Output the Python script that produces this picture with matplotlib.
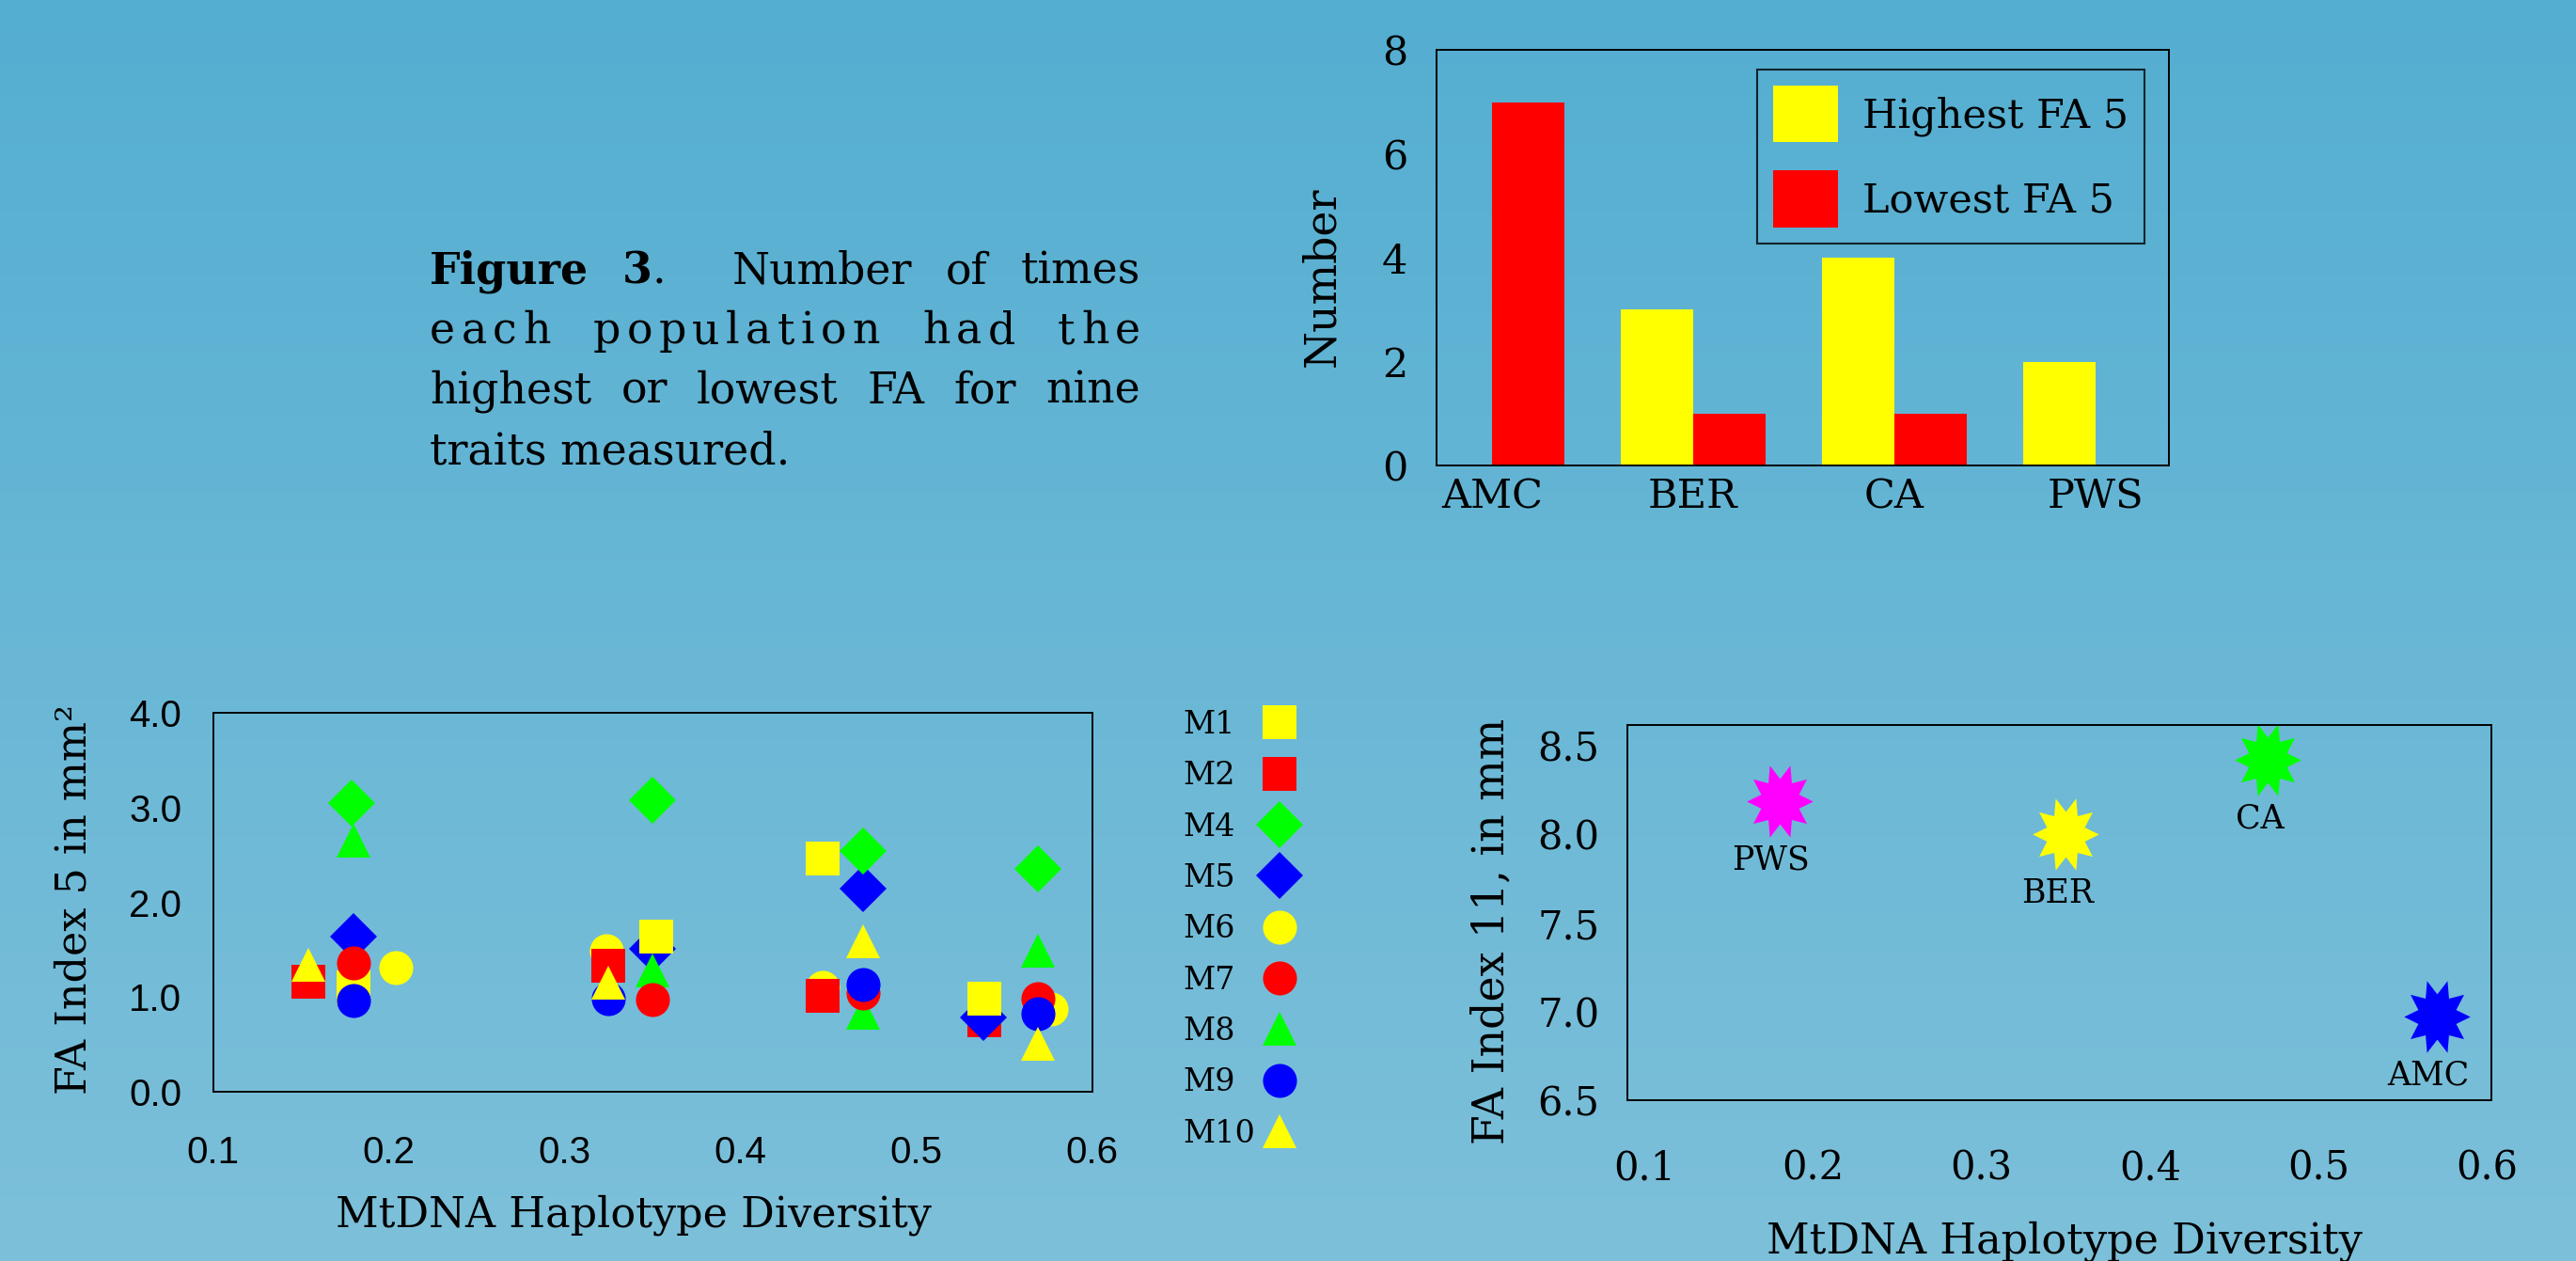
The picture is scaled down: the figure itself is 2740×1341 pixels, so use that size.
import matplotlib
matplotlib.use('Agg')
import matplotlib.pyplot as plt
import numpy as np
from matplotlib.colors import LinearSegmentedColormap
from matplotlib.markers import MarkerStyle
from matplotlib.path import Path
from matplotlib.transforms import Affine2D

W, H = 2740, 1341

# bar chart: times each population had highest / lowest FA
populations = ['AMC', 'BER', 'CA', 'PWS']
highest_fa5 = [0, 3, 4, 2]
lowest_fa5 = [7, 1, 1, 0]

# FA index 5 (mm^2) against mtDNA haplotype diversity, one series per trait
m1_x = [0.180, 0.352, 0.447, 0.539]
m1_y = [1.10, 1.64, 2.46, 0.98]
m2_x = [0.154, 0.325, 0.447, 0.539]
m2_y = [1.16, 1.33, 1.01, 0.75]
m4_x = [0.179, 0.350, 0.470, 0.569]
m4_y = [3.05, 3.08, 2.54, 2.35]
m5_x = [0.180, 0.350, 0.470, 0.538]
m5_y = [1.64, 1.51, 2.15, 0.78]
m6_x = [0.204, 0.324, 0.447, 0.577]
m6_y = [1.31, 1.49, 1.10, 0.87]
m7_x = [0.180, 0.350, 0.470, 0.569]
m7_y = [1.36, 0.97, 1.04, 0.98]
m8_x = [0.180, 0.350, 0.470, 0.569]
m8_y = [2.65, 1.28, 0.83, 1.49]
m9_x = [0.180, 0.325, 0.470, 0.569]
m9_y = [0.96, 0.98, 1.13, 0.82]
m10_x = [0.154, 0.325, 0.470, 0.569]
m10_y = [1.34, 1.15, 1.59, 0.51]

# FA index 11 (mm) per population
star_pops = ['PWS', 'BER', 'CA', 'AMC']
star_x = [0.18, 0.35, 0.47, 0.57]
star_y = [8.19, 8.00, 8.42, 6.97]

plt.rcParams['font.family'] = 'DejaVu Serif'


def fx(px):
    return px / W


def fy(py):
    return 1 - py / H


fig = plt.figure(figsize=(W / 100, H / 100), dpi=100)

# gradient background
bg = fig.add_axes([0, 0, 1, 1], zorder=-10)
cmap = LinearSegmentedColormap.from_list('bg', ['#54AED1', '#7DC0DA'])
bg.imshow(np.linspace(0, 1, 256).reshape(-1, 1), aspect='auto', cmap=cmap,
          extent=[0, 1, 0, 1], origin='upper')
bg.axis('off')


def style_axes(axis):
    axis.set_facecolor('none')
    for sp in axis.spines.values():
        sp.set_linewidth(1.4)
        sp.set_color('black')
    axis.tick_params(length=0)


# ---- bar chart ----
ax_bar = fig.add_axes([fx(1527.7), fy(495), (2306.7 - 1527.7) / W, (495 - 53.3) / H])
style_axes(ax_bar)
xpos = np.arange(len(populations))
bw = 0.36
ax_bar.bar(xpos - bw, highest_fa5, width=bw, align='edge', color='#FFFF00', label='Highest FA 5')
ax_bar.bar(xpos, lowest_fa5, width=bw, align='edge', color='#FF0000', label='Lowest FA 5')
ax_bar.set_xlim(-0.277, 3.365)
ax_bar.set_ylim(0, 8)
ax_bar.set_yticks([0, 2, 4, 6, 8])
ax_bar.set_xticks(xpos)
ax_bar.set_xticklabels(populations)
ax_bar.tick_params(axis='y', pad=22, labelsize=31)
ax_bar.tick_params(axis='x', pad=9, labelsize=31)
leg = ax_bar.legend(loc='upper right', bbox_to_anchor=(fx(2281), fy(74)),
                    bbox_transform=fig.transFigure, borderaxespad=0, fancybox=False,
                    edgecolor='black', fontsize=31, handlelength=1.6, handleheight=1.77,
                    labelspacing=0.7, handletextpad=0.6, borderpad=0.4)
leg.get_frame().set_facecolor('none')
leg.get_frame().set_linewidth(1.5)
fig.text(fx(1407), fy(294), 'Number', rotation=90, ha='center', va='center', fontsize=33)

# ---- caption, justified ----
renderer = fig.canvas.get_renderer()
cap_size = 33
cap_left, cap_right = 457, 1213


def justify(tokens, gaps, base):
    placed = []
    widths = []
    for tok in tokens:
        items = []
        tw = 0
        for s, weight in tok:
            t = fig.text(0, fy(base), s, fontsize=cap_size, fontweight=weight, va='baseline')
            w = t.get_window_extent(renderer).width
            items.append((t, w))
            tw += w
        placed.append(items)
        widths.append(tw)
    gap = (cap_right - cap_left - sum(widths)) / sum(gaps)
    x = cap_left
    for i, items in enumerate(placed):
        for t, w in items:
            t.set_x(fx(x))
            x += w
        if i < len(gaps):
            x += gap * gaps[i]


justify([[('Figure', 'bold')], [('3', 'bold'), ('.', 'normal')], [('Number', 'normal')],
         [('of', 'normal')], [('times', 'normal')]], [1, 2, 1, 1], 302)

# second line is spread letter by letter
line2 = 'each population had the'
tok2, gap2 = [], []
for i, ch in enumerate(line2):
    if ch == ' ':
        continue
    if tok2:
        gap2.append(7 if line2[i - 1] == ' ' else 1)
    tok2.append([(ch, 'normal')])
justify(tok2, gap2, 365)

justify([[('highest', 'normal')], [('or', 'normal')], [('lowest', 'normal')], [('FA', 'normal')],
         [('for', 'normal')], [('nine', 'normal')]], [1, 1, 1, 1, 1], 429)
fig.text(fx(cap_left), fy(493), 'traits measured.', fontsize=cap_size, va='baseline')

# ---- FA index 5 scatter ----
ax1 = fig.add_axes([fx(226.6), fy(1160.9), 934.9 / W, 402.5 / H])
style_axes(ax1)
ms = 26
series = [
    ('M1', m1_x, m1_y, 's', '#FFFF00', ms, 5),
    ('M2', m2_x, m2_y, 's', '#FF0000', ms, 2),
    ('M4', m4_x, m4_y, 'D', '#00FF00', ms - 1, 9),
    ('M5', m5_x, m5_y, 'D', '#0000FF', ms - 1, 3),
    ('M6', m6_x, m6_y, 'o', '#FFFF00', ms, 1),
    ('M7', m7_x, m7_y, 'o', '#FF0000', ms, 6),
    ('M8', m8_x, m8_y, '^', '#00FF00', ms, 4),
    ('M9', m9_x, m9_y, 'o', '#0000FF', ms, 7),
    ('M10', m10_x, m10_y, '^', '#FFFF00', ms, 8),
]
for name, xs, ys, mk, col, size, z in series:
    ax1.plot(xs, ys, linestyle='none', marker=mk, markersize=size, color=col,
             markeredgewidth=0, label=name, zorder=z)
ax1.set_xlim(0.1, 0.6)
ax1.set_ylim(0, 4)
ax1.set_xticks([0.1, 0.2, 0.3, 0.4, 0.5, 0.6])
ax1.set_xticklabels(['0.1', '0.2', '0.3', '0.4', '0.5', '0.6'])
ax1.set_yticks([0, 1, 2, 3, 4])
ax1.set_yticklabels(['0.0', '1.0', '2.0', '3.0', '4.0'])
for lab in ax1.get_xticklabels() + ax1.get_yticklabels():
    lab.set_family('Liberation Sans')
    lab.set_fontsize(29)
ax1.tick_params(axis='x', pad=33)
ax1.tick_params(axis='y', pad=24)

# legend: labels left-aligned in one column, markers in another
handles, labels = ax1.get_legend_handles_labels()
leg_kw = dict(bbox_transform=fig.transFigure, borderaxespad=0, borderpad=0, frameon=False,
              numpoints=1, fontsize=24, labelspacing=0.67, loc='upper left')
leg_txt = ax1.legend(handles, labels, bbox_to_anchor=(fx(1258), fy(755)),
                     handlelength=0, handletextpad=0, **leg_kw)
for h in leg_txt.legend_handles:
    h.set_visible(False)
ax1.add_artist(leg_txt)
ax1.legend(handles, [''] * len(handles), bbox_to_anchor=(fx(1344), fy(755)),
           handlelength=1.0, handletextpad=0, **leg_kw)

fig.text(fx(79), fy(957), 'FA Index 5 in mm²', rotation=90, ha='center', va='center', fontsize=32)
fig.text(fx(674), fy(1305), 'MtDNA Haplotype Diversity', ha='center', va='baseline', fontsize=32)

# ---- FA index 11 scatter ----
ax2 = fig.add_axes([fx(1730.8), fy(1170), 919.1 / W, 399.4 / H])
style_axes(ax2)
star_path = Path.unit_regular_star(10, 0.6).transformed(Affine2D().rotate_deg(18).scale(1, 1.14))
star = MarkerStyle(star_path)
star_cols = ['#FF00FF', '#FFFF00', '#00FF00', '#0000FF']
for px_, py_, col, name in zip(star_x, star_y, star_cols, star_pops):
    ax2.plot([px_], [py_], linestyle='none', marker=star, markersize=55, color=col,
             markeredgewidth=0)
    ax2.annotate(name, (px_, py_), xytext=(-6.5, -45), textcoords='offset points',
                 ha='center', va='center', fontsize=25)
ax2.set_xlim(0.0897, 0.6025)
ax2.set_ylim(6.5, 8.62)
ax2.set_xticks([0.1, 0.2, 0.3, 0.4, 0.5, 0.6])
ax2.set_xticklabels(['0.1', '0.2', '0.3', '0.4', '0.5', '0.6'])
ax2.set_yticks([6.5, 7.0, 7.5, 8.0, 8.5])
ax2.set_yticklabels(['6.5', '7.0', '7.5', '8.0', '8.5'])
ax2.tick_params(axis='x', pad=37, labelsize=30)
ax2.tick_params(axis='y', pad=21, labelsize=30)
fig.text(fx(1587), fy(990), 'FA Index 11, in mm', rotation=90, ha='center', va='center', fontsize=33)
fig.text(fx(2196), fy(1333), 'MtDNA Haplotype Diversity', ha='center', va='baseline', fontsize=32)

fig.savefig('out.png', dpi=100)
